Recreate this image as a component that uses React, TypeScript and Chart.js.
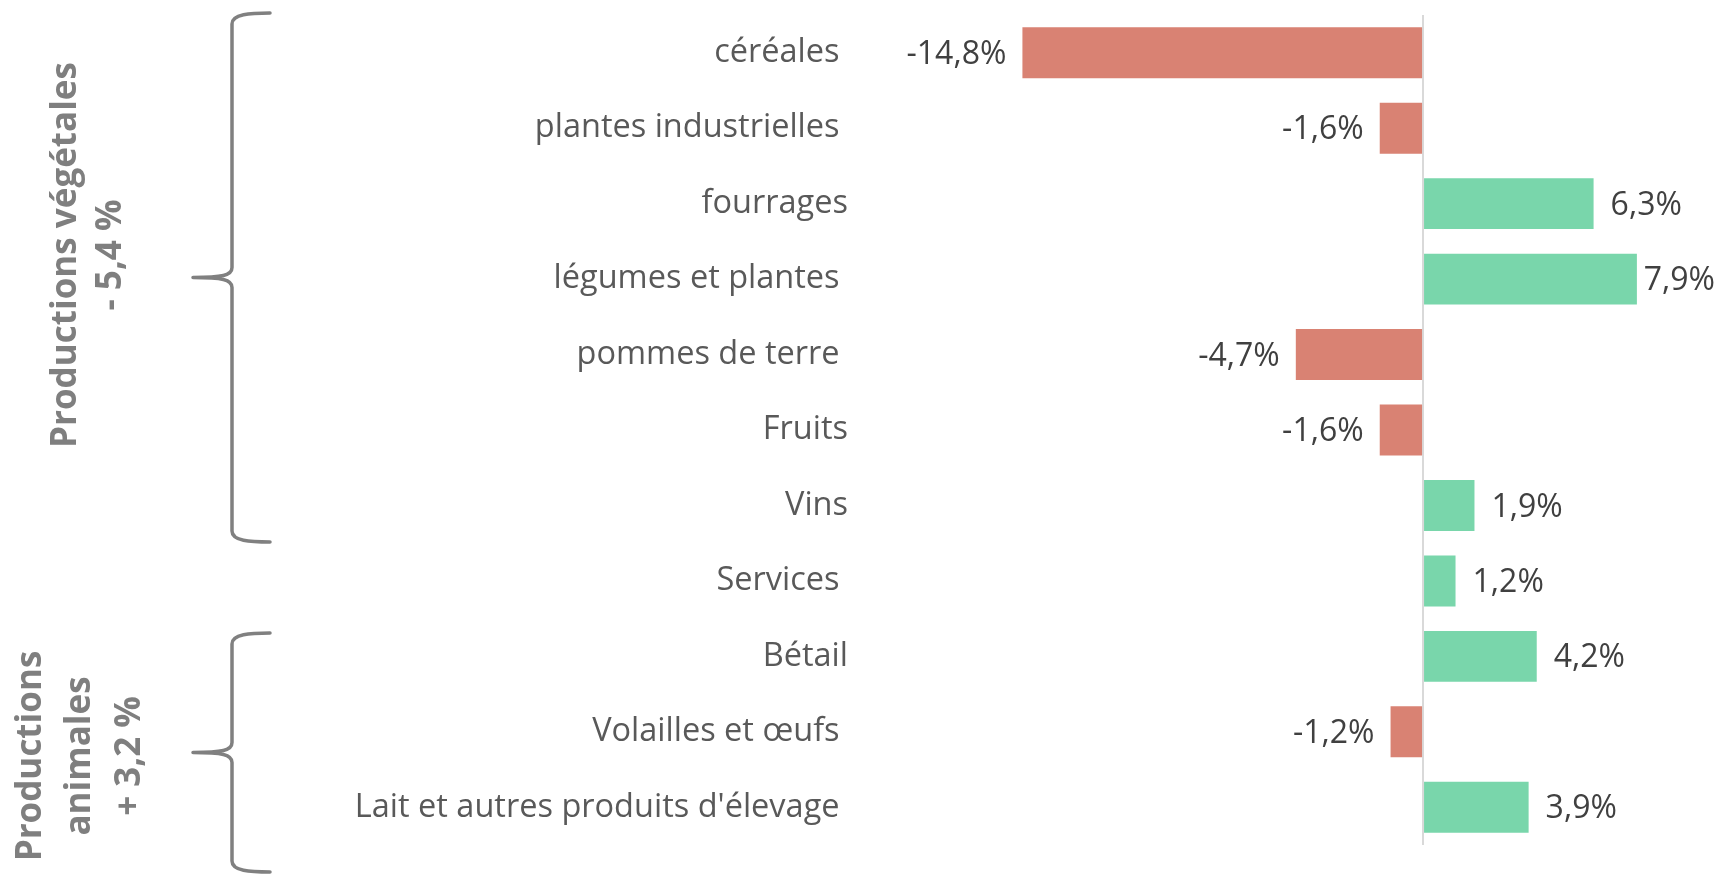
import React, { useEffect, useRef } from "react";
import { Chart, registerables } from "chart.js";

Chart.register(...registerables);

const categories = [
  "céréales ",
  "plantes industrielles ",
  "fourrages",
  "légumes et plantes ",
  "pommes de terre ",
  "Fruits",
  "Vins",
  "Services ",
  "Bétail",
  "Volailles et œufs ",
  "Lait et autres produits d'élevage ",
];
const values = [-14.8, -1.6, 6.3, 7.9, -4.7, -1.6, 1.9, 1.2, 4.2, -1.2, 3.9];
const groupTopLines = ["Productions végétales", "- 5,4 %"];
const groupBottomLines = ["Productions", "animales", "+ 3,2 %"];

const RED = "#D98273";
const GREEN = "#79D6AB";
const FONT = "'Open Sans', sans-serif";

function fmt(v: number) {
  return v.toFixed(1).replace(".", ",") + "%";
}

export default function App() {
  const ref = useRef<HTMLCanvasElement>(null);

  useEffect(() => {
    document.body.style.margin = "0";
    const canvas = ref.current;
    if (!canvas) return;

    const valueLabels = {
      id: "valueLabels",
      afterDatasetsDraw(chart: any) {
        const ctx = chart.ctx;
        const meta = chart.getDatasetMeta(0);
        ctx.save();
        ctx.font = `32px ${FONT}`;
        ctx.fillStyle = "#404040";
        ctx.textBaseline = "middle";
        meta.data.forEach((bar: any, i: number) => {
          const v = values[i];
          const t = fmt(v);
          const w = ctx.measureText(t).width;
          if (v >= 0) {
            const x = Math.min(bar.x + 17, chart.width - 5 - w);
            ctx.textAlign = "left";
            ctx.fillText(t, x, bar.y + 2);
          } else {
            ctx.textAlign = "right";
            ctx.fillText(t, bar.x - 16, bar.y + 2);
          }
        });
        ctx.restore();
      },
    };

    const drawBrace = (ctx: CanvasRenderingContext2D, top: number, bottom: number) => {
      const xv = 232;
      const xe = 270;
      const xt = 193;
      const mid = (top + bottom) / 2;
      ctx.beginPath();
      ctx.moveTo(xe, top);
      ctx.bezierCurveTo(250, top, xv, top + 1, xv, top + 11);
      ctx.lineTo(xv, mid - 10);
      ctx.bezierCurveTo(xv, mid - 2, 222, mid, xt, mid);
      ctx.bezierCurveTo(222, mid, xv, mid + 2, xv, mid + 10);
      ctx.lineTo(xv, bottom - 11);
      ctx.bezierCurveTo(xv, bottom - 1, 250, bottom, xe, bottom);
      ctx.stroke();
    };

    const drawGroup = (ctx: CanvasRenderingContext2D, lines: string[], baselines: number[], cy: number) => {
      lines.forEach((l, i) => {
        ctx.save();
        ctx.translate(baselines[i], cy);
        ctx.rotate(-Math.PI / 2);
        ctx.fillText(l, 0, 0);
        ctx.restore();
      });
    };

    const groups = {
      id: "groups",
      afterDraw(chart: any) {
        const ctx = chart.ctx;
        ctx.save();
        ctx.strokeStyle = "#808080";
        ctx.lineWidth = 3.5;
        ctx.lineCap = "round";
        ctx.lineJoin = "round";
        drawBrace(ctx, 13, 542);
        drawBrace(ctx, 633, 872);
        ctx.fillStyle = "#7F7F7F";
        ctx.font = `bold 35px ${FONT}`;
        ctx.textAlign = "center";
        ctx.textBaseline = "alphabetic";
        drawGroup(ctx, groupTopLines, [76, 121], 255);
        drawGroup(ctx, groupBottomLines, [41, 90, 140], 756);
        ctx.restore();
      },
    };

    const chart = new Chart(canvas, {
      type: "bar",
      data: {
        labels: categories,
        datasets: [
          {
            data: values,
            backgroundColor: values.map((v) => (v < 0 ? RED : GREEN)),
            borderWidth: 0,
            barPercentage: 0.675,
            categoryPercentage: 1,
          },
        ],
      },
      options: {
        indexAxis: "y",
        animation: false,
        responsive: true,
        maintainAspectRatio: false,
        layout: { padding: { top: 15, bottom: 29, left: 0, right: 0 } },
        plugins: {
          legend: { display: false },
          tooltip: { enabled: false },
        },
        scales: {
          x: {
            min: -20.8,
            max: 10.97,
            z: 1,
            border: { display: false },
            ticks: { display: false },
            grid: {
              drawTicks: false,
              lineWidth: 2,
              color: (c: any) => (c.tick && c.tick.value === 0 ? "#D9D9D9" : "rgba(0,0,0,0)"),
            },
            afterBuildTicks: (s: any) => {
              s.ticks = [{ value: 0 }];
            },
            afterFit: (s: any) => {
              s.height = 0;
              s.paddingLeft = 0;
              s.paddingRight = 0;
            },
          },
          y: {
            border: { display: false },
            grid: { display: false, drawTicks: false },
            ticks: {
              padding: 12,
              color: "#595959",
              font: { family: FONT, size: 32.5 },
              autoSkip: false,
            },
            afterFit: (s: any) => {
              s.width = 860;
              s.paddingTop = 0;
              s.paddingBottom = 0;
            },
          },
        },
      },
      plugins: [valueLabels, groups],
    });

    return () => chart.destroy();
  }, []);

  return (
    <div style={{ position: "fixed", left: 0, top: 0, width: 1720, height: 874, background: "#fff" }}>
      <canvas ref={ref} />
    </div>
  );
}
